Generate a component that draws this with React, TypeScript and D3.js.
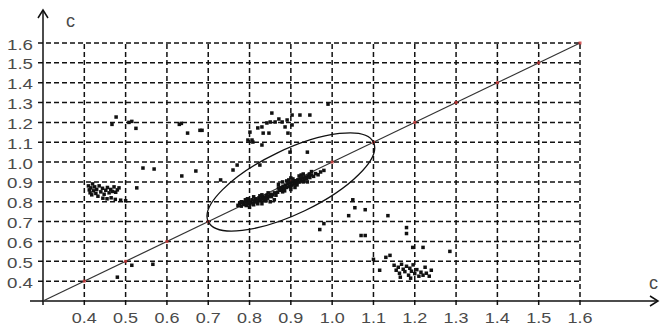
import React from 'react';
import * as d3 from 'd3';

const ticks = [0.4, 0.5, 0.6, 0.7, 0.8, 0.9, 1.0, 1.1, 1.2, 1.3, 1.4, 1.5, 1.6];
const tickLabels = ['0.4', '0.5', '0.6', '0.7', '0.8', '0.9', '1.0', '1.1', '1.2', '1.3', '1.4', '1.5', '1.6'];
const axisName = 'c';

// main dense cluster along the diagonal
const mainCluster = [
  [0.772, 0.782], [0.776, 0.79], [0.78, 0.778], [0.783, 0.795], [0.786, 0.786], [0.789, 0.8],
  [0.792, 0.781], [0.795, 0.792], [0.798, 0.805], [0.801, 0.788], [0.803, 0.797], [0.806, 0.81],
  [0.809, 0.793], [0.812, 0.803], [0.815, 0.815], [0.818, 0.798], [0.82, 0.808], [0.823, 0.82],
  [0.826, 0.805], [0.829, 0.814], [0.832, 0.826], [0.835, 0.812], [0.838, 0.822], [0.841, 0.832],
  [0.844, 0.818], [0.847, 0.828], [0.85, 0.838], [0.853, 0.826], [0.856, 0.835], [0.86, 0.845],
  [0.864, 0.833], [0.868, 0.848], [0.872, 0.858], [0.875, 0.87], [0.878, 0.862], [0.881, 0.878],
  [0.884, 0.866], [0.887, 0.884], [0.89, 0.872], [0.893, 0.89], [0.896, 0.878], [0.899, 0.895],
  [0.902, 0.884], [0.905, 0.9], [0.908, 0.889], [0.911, 0.906], [0.914, 0.894], [0.917, 0.91],
  [0.92, 0.899], [0.923, 0.915], [0.926, 0.904], [0.929, 0.92], [0.932, 0.91], [0.935, 0.925],
  [0.938, 0.916], [0.942, 0.93], [0.946, 0.922], [0.95, 0.935], [0.955, 0.928], [0.96, 0.942],
  [0.966, 0.936], [0.972, 0.95], [0.86, 0.81], [0.85, 0.8], [0.83, 0.79], [0.8, 0.772],
  [0.88, 0.85], [0.9, 0.862], [0.91, 0.872], [0.94, 0.9], [0.87, 0.888], [0.89, 0.905],
  [0.92, 0.93], [0.95, 0.952], [0.98, 0.958],
  [0.88, 0.9], [0.9, 0.92], [0.91, 0.89], [0.93, 0.94], [0.895, 0.91], [0.925, 0.935],
  [0.905, 0.915], [0.915, 0.885], [0.87, 0.87], [0.885, 0.855], [0.9, 0.875], [0.93, 0.9],
  [0.945, 0.94], [0.79, 0.81], [0.81, 0.825], [0.82, 0.79], [0.84, 0.805], [0.8, 0.795],
  [0.83, 0.835], [0.845, 0.845], [0.78, 0.8], [0.825, 0.83], [0.81, 0.785], [0.795, 0.815],
];

// cluster above the ellipse
const upperCluster = [
  [0.801, 1.151], [0.806, 1.111], [0.808, 1.101], [0.82, 1.172], [0.83, 1.177], [0.833, 1.146],
  [0.842, 1.197], [0.85, 1.202], [0.862, 1.202], [0.879, 1.202], [0.891, 1.212], [0.886, 1.177],
  [0.893, 1.146], [0.847, 1.146], [0.854, 1.247], [0.903, 1.237], [0.922, 1.237], [0.946, 1.237],
  [0.796, 1.111], [0.83, 1.086], [0.903, 1.187], [0.871, 1.217], [0.99, 1.292],
];

// cluster on the left
const leftCluster = [
  [0.41, 0.88], [0.412, 0.86], [0.414, 0.845], [0.416, 0.87], [0.418, 0.835], [0.42, 0.89],
  [0.422, 0.855], [0.425, 0.875], [0.428, 0.842], [0.43, 0.862], [0.433, 0.828], [0.436, 0.88],
  [0.44, 0.85], [0.444, 0.868], [0.448, 0.838], [0.452, 0.858], [0.456, 0.872], [0.46, 0.845],
  [0.464, 0.862], [0.468, 0.852], [0.472, 0.875], [0.476, 0.848], [0.48, 0.86], [0.484, 0.87],
  [0.445, 0.818], [0.455, 0.815], [0.465, 0.82], [0.475, 0.812], [0.488, 0.808], [0.5, 0.805],
];

// cluster at bottom right
const lowerCluster = [
  [1.15, 0.48], [1.155, 0.455], [1.16, 0.47], [1.163, 0.44], [1.168, 0.485], [1.172, 0.46],
  [1.176, 0.448], [1.18, 0.475], [1.185, 0.43], [1.188, 0.465], [1.192, 0.45], [1.196, 0.482],
  [1.2, 0.438], [1.205, 0.458], [1.21, 0.425], [1.215, 0.445], [1.22, 0.43], [1.228, 0.44],
  [1.235, 0.425], [1.24, 0.455], [1.225, 0.47], [1.165, 0.42], [1.19, 0.415],
];

// isolated points
const scattered = [
  [0.477, 1.227], [0.467, 1.19], [0.508, 1.2], [0.515, 1.205], [0.525, 1.17], [0.63, 1.19],
  [0.635, 1.195], [0.65, 1.146], [0.68, 1.16], [0.685, 1.16], [0.542, 0.97], [0.569, 0.965],
  [0.636, 0.93], [0.67, 0.955], [0.527, 0.87], [0.515, 0.48], [0.566, 0.485], [0.48, 0.42],
  [0.77, 0.985], [0.825, 0.985], [0.898, 1.05], [0.94, 1.05], [0.73, 0.91], [0.76, 0.96],
  [1.05, 0.81], [1.055, 0.77], [1.04, 0.73], [1.08, 0.76], [1.135, 0.73], [0.98, 0.69],
  [0.97, 0.66], [1.07, 0.63], [1.08, 0.63], [1.18, 0.67], [1.18, 0.64], [1.195, 0.57],
  [1.22, 0.57], [1.285, 0.55], [1.1, 0.51], [1.115, 0.455], [1.13, 0.52], [1.14, 0.53],
];

const diagonal = [0.3, 1.6];
const ellipseCenter = 0.9;
const ellipseTip = 1.1;

const W = 660;
const H = 326;

export default function App() {
  const x = d3.scaleLinear().domain([0.3, 1.6]).range([43, 580]);
  const y = d3.scaleLinear().domain([0.3, 1.6]).range([301, 43]);
  const points = [...mainCluster, ...upperCluster, ...leftCluster, ...lowerCluster, ...scattered];

  const cx = x(ellipseCenter);
  const cy = y(ellipseCenter);
  const tx = x(ellipseTip);
  const ty = y(ellipseTip);
  const rx = Math.hypot(tx - cx, ty - cy);
  const angle = (Math.atan2(ty - cy, tx - cx) * 180) / Math.PI;

  const x0 = x(0.3);
  const y0 = y(0.3);
  const textStyle = { fontFamily: "'Liberation Sans', Arial, Helvetica, sans-serif", fontSize: 14, fill: '#4a4a4a' };

  return (
    <svg width={W} height={H} style={{ position: 'absolute', left: 0, top: 0, background: '#fff' }}>
      {/* grid */}
      {ticks.map((t) => (
        <line key={'v' + t} x1={x(t)} x2={x(t)} y1={y0 + 4} y2={y(1.6)} stroke="#111" strokeWidth={1.5} strokeDasharray="5,3" />
      ))}
      {ticks.map((t) => (
        <line key={'h' + t} x1={x0 - 5} x2={x(1.6)} y1={y(t)} y2={y(t)} stroke="#111" strokeWidth={1.5} strokeDasharray="5,3" />
      ))}
      {/* axes */}
      <line x1={x0} x2={x0} y1={y0 + 4} y2={10} stroke="#111" strokeWidth={1.5} />
      <path d={`M${x0 - 5},${18} L${x0},${10} L${x0 + 5},${18}`} fill="none" stroke="#111" strokeWidth={1.5} />
      <line x1={30} x2={658} y1={y0} y2={y0} stroke="#111" strokeWidth={1.5} />
      <path d={`M${650},${y0 - 5} L${658},${y0} L${650},${y0 + 5}`} fill="none" stroke="#111" strokeWidth={1.5} />
      <text x={66} y={27} style={{ ...textStyle, fontSize: 18 }}>{axisName}</text>
      <text x={649} y={289} style={{ ...textStyle, fontSize: 18 }}>{axisName}</text>
      {ticks.map((t, i) => (
        <text key={'yl' + t} x={7} y={y(t) + 6.5} textLength={26} lengthAdjust="spacingAndGlyphs" style={textStyle}>
          {tickLabels[i]}
        </text>
      ))}
      {ticks.map((t, i) => (
        <text key={'xl' + t} x={x(t) - 12.5} y={323} textLength={25} lengthAdjust="spacingAndGlyphs" style={textStyle}>
          {tickLabels[i]}
        </text>
      ))}
      {/* diagonal */}
      <line x1={x(diagonal[0])} y1={y(diagonal[0])} x2={x(diagonal[1])} y2={y(diagonal[1])} stroke="#333" strokeWidth={1.2} />
      {ticks.map((t) => (
        <rect key={'r' + t} x={x(t) - 1.5} y={y(t) - 1.5} width={3} height={3} fill="#c33" opacity={0.8} />
      ))}
      {/* ellipse */}
      <ellipse cx={cx} cy={cy} rx={rx} ry={32} fill="none" stroke="#111" strokeWidth={1.3} transform={`rotate(${angle} ${cx} ${cy})`} />
      {/* points */}
      {points.map((p, i) => (
        <rect key={'p' + i} x={x(p[0]) - 1.75} y={y(p[1]) - 1.75} width={3.5} height={3.5} fill="#111" />
      ))}
    </svg>
  );
}
